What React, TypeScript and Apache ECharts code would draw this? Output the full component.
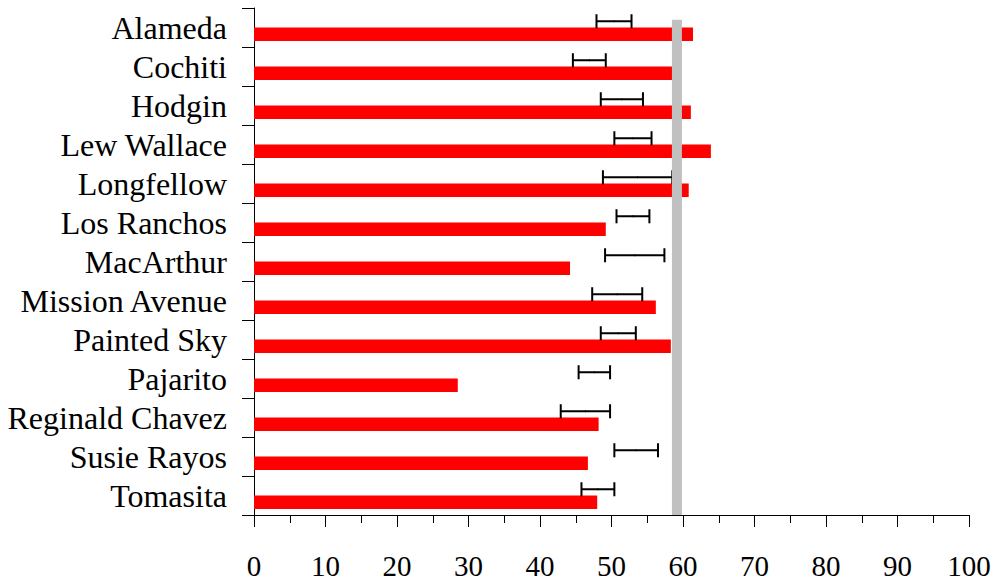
import React, { useEffect, useRef } from "react";
import * as echarts from "echarts";

const categories = [
  "Alameda",
  "Cochiti",
  "Hodgin",
  "Lew Wallace",
  "Longfellow",
  "Los Ranchos",
  "MacArthur",
  "Mission Avenue",
  "Painted Sky",
  "Pajarito",
  "Reginald Chavez",
  "Susie Rayos",
  "Tomasita",
];
const values = [61.4, 58.5, 61.1, 63.9, 60.8, 49.2, 44.2, 56.2, 58.3, 28.5, 48.2, 46.7, 48.0];
const errLow = [47.9, 44.6, 48.5, 50.4, 48.8, 50.7, 49.1, 47.3, 48.5, 45.4, 42.9, 50.4, 45.8];
const errHigh = [52.8, 49.2, 54.4, 55.6, 58.5, 55.3, 57.4, 54.3, 53.4, 49.8, 49.8, 56.5, 50.4];
const referenceValue = 59.15;
const xTicks = [0, 10, 20, 30, 40, 50, 60, 70, 80, 90, 100];

const FONT = "'Liberation Serif', 'Times New Roman', serif";

export default function App() {
  const ref = useRef<HTMLDivElement>(null);

  useEffect(() => {
    if (!ref.current) return;
    const chart = echarts.init(ref.current, null, { renderer: "svg" });

    const errData = categories.map((_, i) => [errLow[i], errHigh[i], i]);
    const errMid = categories.map((_, i) => (errLow[i] + errHigh[i]) / 2);

    const option: any = {
      animation: false,
      backgroundColor: "#ffffff",
      grid: { left: 254, right: 31, top: 8, bottom: 70, containLabel: false },
      xAxis: {
        type: "value",
        min: xTicks[0],
        max: xTicks[xTicks.length - 1],
        interval: 10,
        splitLine: { show: false },
        axisLine: { show: true, lineStyle: { color: "#000", width: 1 } },
        axisTick: { show: true, length: 12, lineStyle: { color: "#000", width: 1 } },
        minorTick: { show: true, splitNumber: 2, length: 8, lineStyle: { color: "#000", width: 1 } },
        axisLabel: {
          color: "#000",
          fontFamily: FONT,
          fontSize: 29,
          margin: 36,
        },
      },
      yAxis: {
        type: "category",
        data: categories,
        inverse: true,
        axisLine: { show: true, lineStyle: { color: "#000", width: 1 } },
        axisTick: { show: true, length: 12, inside: false, lineStyle: { color: "#000", width: 1 } },
        axisLabel: {
          color: "#000",
          fontFamily: FONT,
          fontSize: 32,
          margin: 27,
          interval: 0,
        },
        splitLine: { show: false },
      },
      series: [
        {
          name: "placeholder",
          type: "bar",
          data: errMid,
          barWidth: 13.5,
          barGap: "0%",
          itemStyle: { color: "rgba(0,0,0,0)" },
          silent: true,
          z: 1,
        },
        {
          name: "value",
          type: "bar",
          data: values,
          barWidth: 13.5,
          barGap: "0%",
          itemStyle: { color: "#ff0000" },
          z: 2,
        },
        {
          name: "error",
          type: "custom",
          data: errData,
          encode: { x: [0, 1], y: 2 },
          z: 3,
          renderItem: (params: any, api: any) => {
            const idx = api.value(2);
            const lo = api.coord([api.value(0), idx]);
            const hi = api.coord([api.value(1), idx]);
            const band = api.size([0, 1])[1];
            const cy = lo[1] - band * 0.16;
            const half = band * 0.18;
            const mx = (lo[0] + hi[0]) / 2;
            const style = { stroke: "#000", lineWidth: 2 };
            return {
              type: "group",
              children: [
                { type: "line", shape: { x1: lo[0], y1: cy, x2: hi[0], y2: cy }, style },
                { type: "line", shape: { x1: lo[0], y1: cy - half, x2: lo[0], y2: cy + half }, style },
                { type: "line", shape: { x1: hi[0], y1: cy - half, x2: hi[0], y2: cy + half }, style },
                { type: "line", shape: { x1: mx, y1: cy - 1, x2: mx, y2: cy + 1 }, style: { stroke: "#000", lineWidth: 1 } },
              ],
            };
          },
        },
        {
          name: "reference",
          type: "custom",
          data: [[referenceValue, 0]],
          encode: { x: 0, y: 1 },
          z: 4,
          renderItem: (params: any, api: any) => {
            const p = api.coord([api.value(0), 0]);
            const band = api.size([0, 1])[1];
            const top = p[1] - band * 0.2;
            const bottom = params.coordSys.y + params.coordSys.height;
            return {
              type: "rect",
              shape: { x: p[0] - 5, y: top, width: 10, height: bottom - top },
              style: { fill: "#c0c0c0" },
            };
          },
        },
      ],
    };

    chart.setOption(option);
    return () => chart.dispose();
  }, []);

  return (
    <div
      ref={ref}
      style={{ position: "absolute", left: 0, top: 0, width: 1000, height: 585, background: "#fff" }}
    />
  );
}
